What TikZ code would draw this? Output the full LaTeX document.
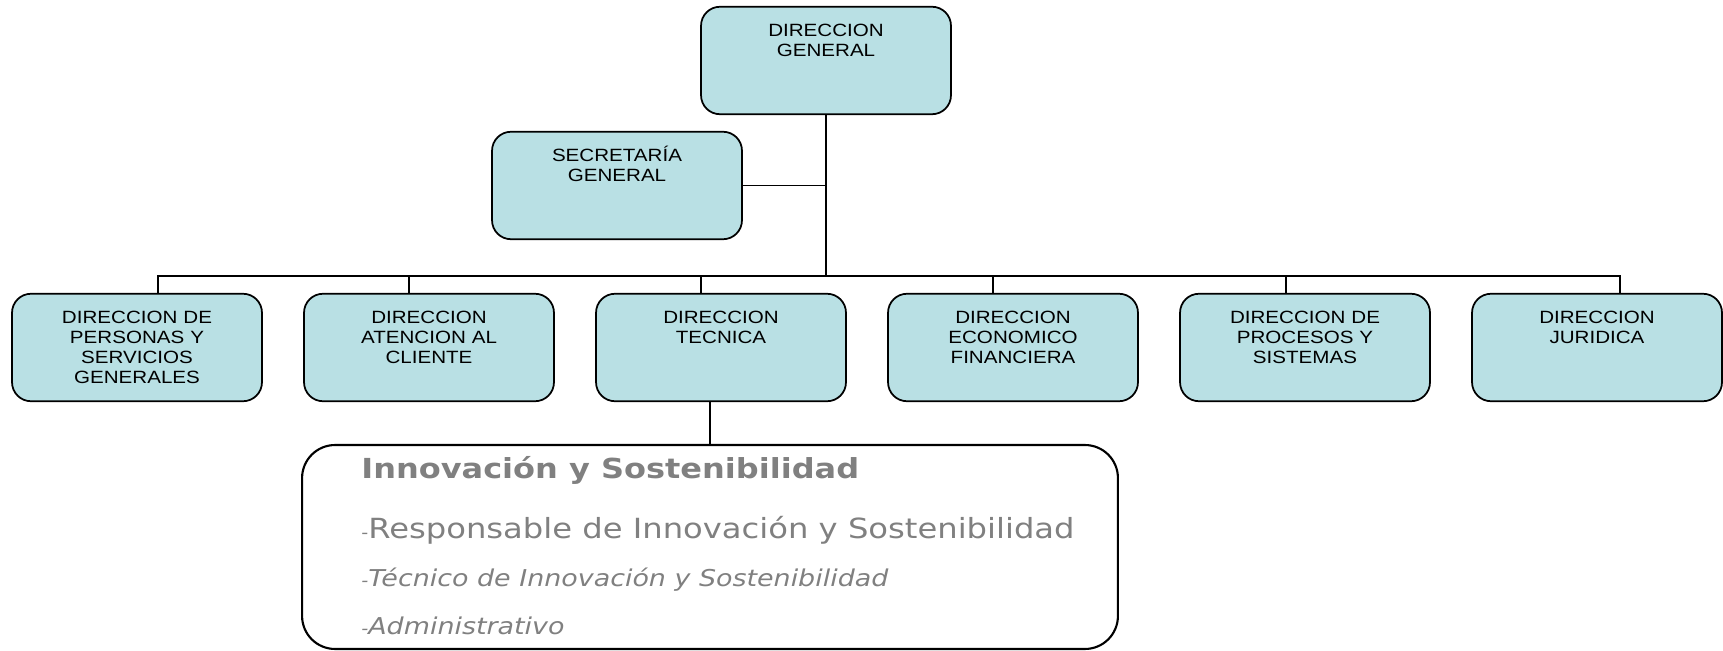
\documentclass[tikz,border=0pt]{standalone}
\usepackage{fontspec}
\setmainfont{Liberation Sans}[FakeStretch=1.16]
\newfontfamily\verdana{DejaVu Sans}[FakeStretch=1.16]
\usetikzlibrary{calc}

\definecolor{boxfill}{RGB}{185,224,228}
\definecolor{textgray}{RGB}{128,128,128}

\begin{document}
\begin{tikzpicture}[x=0.02cm, y=-0.02cm,
  unit/.style={draw, line width=1pt, fill=boxfill, rounded corners=0.38cm,
    inner sep=0pt, text width=5cm, align=center,
    text height=0.594cm, text depth=1.556cm,
    font=\fontsize{10.1}{11.4}\selectfont},
  link/.style={line width=0.85pt},
  roleline/.style={anchor=base west, inner sep=0pt, text=textgray}]

% Page size
\useasboundingbox (0,0) rectangle (1723,651);

% Define row positions
\def\top{60.5}    % top box
\def\mid{185.5}   % secretaria
\def\row{347.5}   % directions row

% Top of the chart
\node[unit] (dg) at (826,\top) {DIRECCION\\GENERAL};
\node[unit] (sg) at (617,\mid) {SECRETARÍA\\GENERAL};

% Directions row
\node[unit] (p1) at (137,\row)  {DIRECCION DE\\PERSONAS Y\\SERVICIOS\\GENERALES};
\node[unit] (p2) at (429,\row)  {DIRECCION\\ATENCION AL\\CLIENTE};
\node[unit] (p3) at (721,\row)  {DIRECCION\\TECNICA};
\node[unit] (p4) at (1013,\row) {DIRECCION\\ECONOMICO\\FINANCIERA};
\node[unit] (p5) at (1305,\row) {DIRECCION DE\\PROCESOS Y\\SISTEMAS};
\node[unit] (p6) at (1597,\row) {DIRECCION\\JURIDICA};

% Bus line ends
\coordinate (busL) at (158,276);
\coordinate (busR) at (1620,276);

% Connectors
\draw[link] (dg.south) -- (dg.south |- busL);
\draw[link] (sg.east) -- (sg.east -| dg.south);
\draw[link] (busL) -- (busR);
\foreach \n/\dx in {p1/21, p2/-20, p3/-20, p4/-20, p5/-19, p6/23}
  \draw[link] ($(\n.north)+(\dx,0)$) -- ++(0,-17.5);

% Innovation box
\node[draw, line width=1.2pt, rounded corners=0.66cm, minimum width=16.32cm,
  minimum height=4.08cm, inner sep=0pt] (innov) at (710,547) {};
\draw[link] (p3.south -| innov.north) -- (innov.north);

% Text of the innovation box
\node[roleline, font=\verdana\bfseries\fontsize{15.7}{18}\selectfont] (t0) at (361,479)
  {Innovación y Sostenibilidad};
\node[roleline, font=\verdana\fontsize{15.8}{18}\selectfont] (t1) at (361,538)
  {{\fontsize{9.5}{10}\selectfont-}Responsable de Innovación y Sostenibilidad};
\node[roleline, font=\verdana\itshape\fontsize{13.2}{15}\selectfont] (t2) at (361,586)
  {{\fontsize{9.5}{10}\selectfont-}Técnico de Innovación y Sostenibilidad};
\node[roleline, font=\verdana\itshape\fontsize{13.2}{15}\selectfont] (t3) at (361,634)
  {{\fontsize{9.5}{10}\selectfont-}Administrativo};

\end{tikzpicture}
\end{document}
